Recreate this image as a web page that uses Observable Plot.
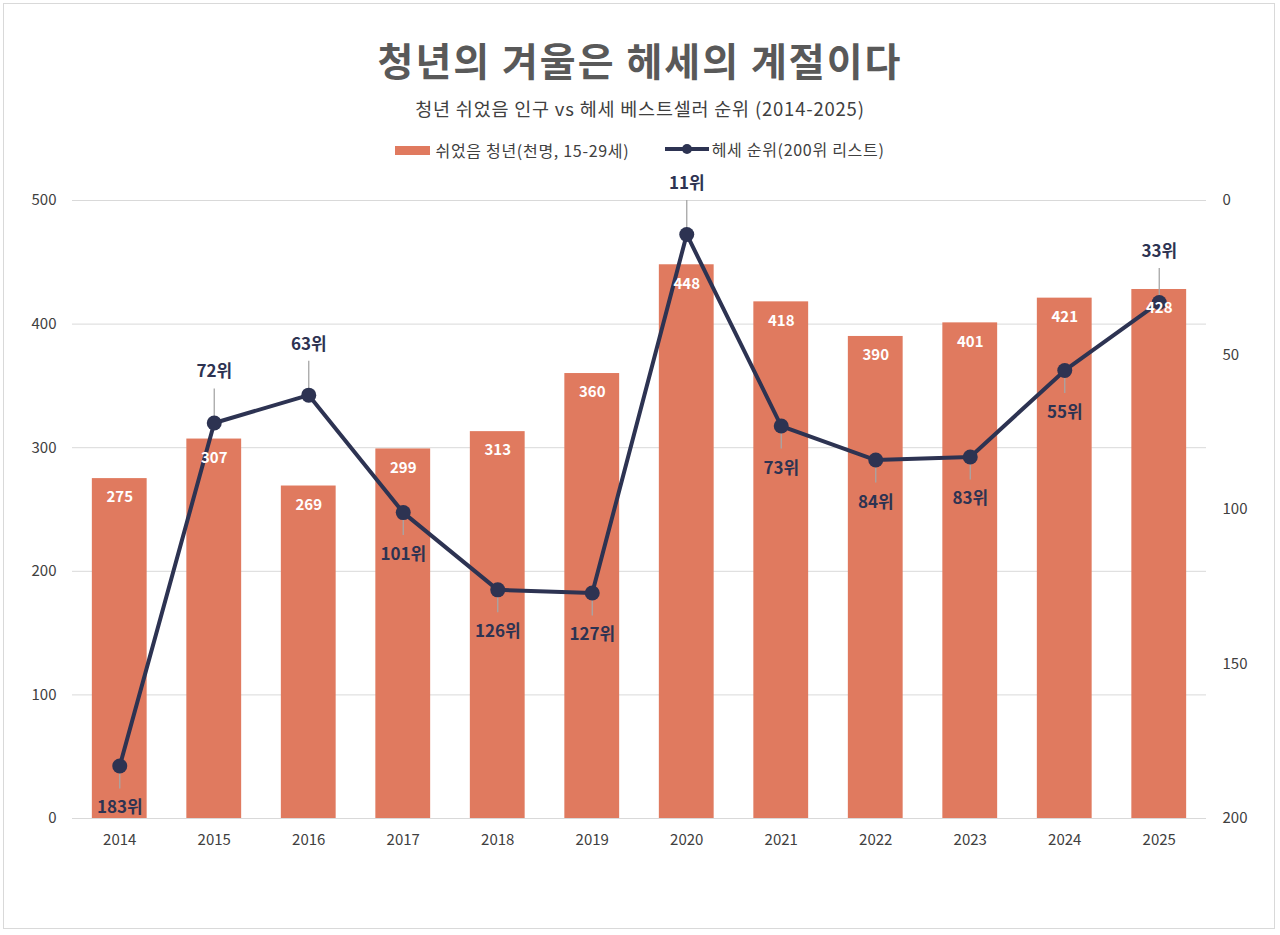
<!DOCTYPE html>
<html><head><meta charset="utf-8">
<script src="https://cdn.jsdelivr.net/npm/d3@7"></script>
<script src="https://cdn.jsdelivr.net/npm/@observablehq/plot@0.6"></script>
<style>
body{margin:0;background:#fff;font-family:"Noto Sans CJK KR","Noto Sans",sans-serif;}
#frame{position:absolute;left:3px;top:3px;width:1272px;height:926px;border:1px solid #d9d9d9;box-sizing:border-box;}
#title{position:absolute;top:31px;left:0;width:1280px;text-align:center;font-size:39px;font-weight:bold;color:#595959;letter-spacing:2px;}
#sub{position:absolute;top:95px;left:0;width:1280px;text-align:center;font-size:18.5px;color:#404040;letter-spacing:0.8px;}
#legend{position:absolute;top:137px;left:0;width:1280px;text-align:center;font-size:16px;color:#404040;letter-spacing:0.7px;}
#legend span.item{display:inline-flex;align-items:center;margin:0 15px;}
#chart{position:absolute;left:0;top:165px;}
</style></head><body>
<div id="frame"></div>
<div id="title">청년의 겨울은 헤세의 계절이다</div>
<div id="sub">청년 쉬었음 인구 vs 헤세 베스트셀러 순위 (2014-2025)</div>
<div id="legend">
<span class="item"><svg width="40" height="12"><rect x="0" y="2" width="35" height="9" fill="#e07a5f"/></svg>쉬었음 청년(천명, 15-29세)</span>
<span class="item"><svg width="48" height="14"><line x1="1" y1="7" x2="45" y2="7" stroke="#2d3352" stroke-width="4"/><circle cx="23" cy="7" r="5" fill="#2d3352"/></svg>헤세 순위(200위 리스트)</span>
</div>
<div id="chart"></div>
<script>
const years = ["2014","2015","2016","2017","2018","2019","2020","2021","2022","2023","2024","2025"];
const youth = [275,307,269,299,313,360,448,418,390,401,421,428];
const hesseRank = [183,72,63,101,126,127,11,73,84,83,55,33];
const labelAbove = [false,true,true,false,false,false,true,false,false,false,false,true];
const leftTicks = [0,100,200,300,400,500];
const rightTicks = [0,50,100,150,200];

const data = years.map((y,i)=>({year:y, youth:youth[i], rank:hesseRank[i], above:labelAbove[i]}));
// rank axis: 0 at top (500 on bar scale), 200 at bottom (0)
const r2y = r => 500 - r*2.5;

const H = 730, MT = 35, MB = 77;
const pxToY = 500 / (H - MT - MB); // data units per pixel
const navy = "#2d3352";
const font = "'Noto Sans CJK KR','Noto Sans',sans-serif";
const above = data.filter(d=>d.above), below = data.filter(d=>!d.above);

const chart = Plot.plot({
  width:1280, height:H,
  marginLeft:72, marginRight:74, marginTop:MT, marginBottom:MB,
  style:{fontFamily:font, fontSize:"15px", color:"#404040", background:"transparent"},
  x:{domain:years, paddingInner:0.42, paddingOuter:0.21, round:false, label:null},
  y:{domain:[0,500], label:null},
  marks:[
    Plot.ruleY(leftTicks,{stroke:"#d9d9d9", strokeWidth:1}),
    Plot.axisY(leftTicks,{anchor:"left", tickSize:0, tickPadding:16, label:null, fontSize:15, fill:"#404040"}),
    Plot.axisY(rightTicks.map(r2y),{anchor:"right", tickSize:0, tickPadding:16, label:null, fontSize:15, fill:"#404040", tickFormat:d=>String((500-d)/2.5), textAnchor:"start"}),
    Plot.axisX({tickSize:0, tickPadding:16, label:null, fontSize:15, fill:"#404040"}),
    Plot.barY(data,{x:"year", y:"youth", fill:"#e07a5f"}),
    // leader lines
    Plot.ruleX(below,{x:"year", y1:d=>r2y(d.rank), y2:d=>r2y(d.rank) - 23*pxToY, stroke:"#a6a6a6", strokeWidth:1.3}),
    Plot.ruleX(above,{x:"year", y1:d=>r2y(d.rank), y2:d=>r2y(d.rank) + 34*pxToY, stroke:"#a6a6a6", strokeWidth:1.3}),
    Plot.line(data,{x:"year", y:d=>r2y(d.rank), stroke:navy, strokeWidth:4}),
    Plot.dot(data,{x:"year", y:d=>r2y(d.rank), r:7.5, fill:navy}),
    Plot.text(data,{x:"year", y:"youth", text:d=>String(d.youth), dy:19, fill:"white", fontWeight:"bold", fontSize:15}),
    Plot.text(below,{x:"year", y:d=>r2y(d.rank), text:d=>d.rank+"위", dy:42, fill:navy, fontWeight:"bold", fontSize:17, textAnchor:"middle"}),
    Plot.text(above,{x:"year", y:d=>r2y(d.rank), text:d=>d.rank+"위", dy:-51, fill:navy, fontWeight:"bold", fontSize:17, textAnchor:"middle"})
  ]
});
document.getElementById("chart").appendChild(chart);
</script>
</body></html>
